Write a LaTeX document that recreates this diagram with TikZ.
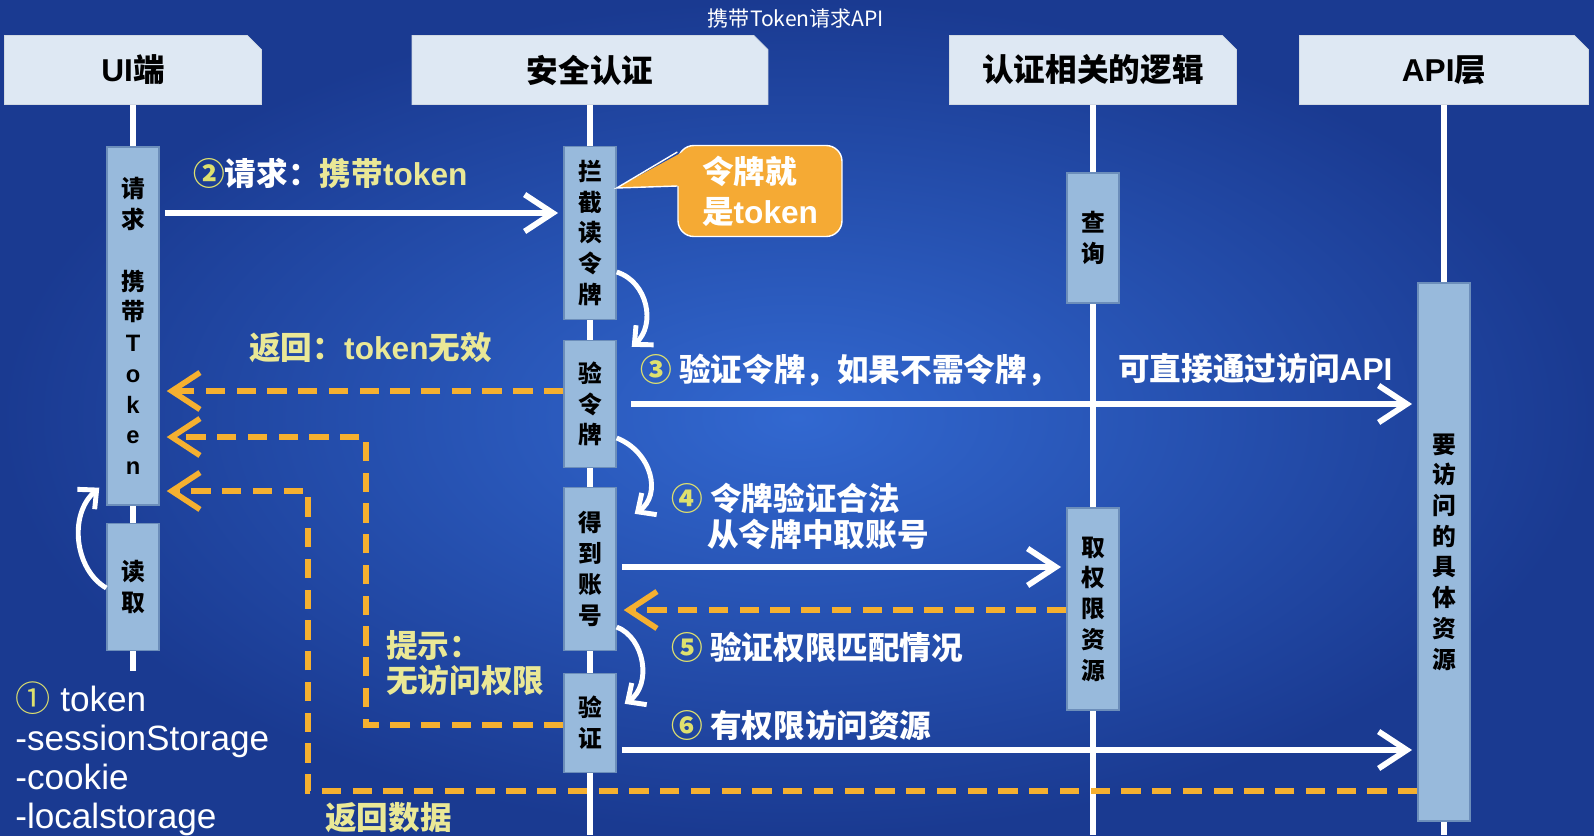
\documentclass[tikz,border=0pt]{standalone}
\usepackage{fontspec}
\setmainfont{Noto Sans CJK SC}
\newfontfamily\lat{Liberation Sans}
\usetikzlibrary{arrows.meta,shapes.misc}

\definecolor{bgin}{RGB}{50,104,208}
\definecolor{bgout}{RGB}{26,58,145}
\definecolor{hdrfill}{RGB}{222,232,243}
\definecolor{actfill}{RGB}{152,186,220}
\definecolor{actline}{RGB}{108,142,186}
\definecolor{dashorange}{RGB}{245,176,48}
\definecolor{tipfill}{RGB}{245,170,52}
\definecolor{labyellow}{RGB}{234,232,150}
\definecolor{numyellow}{RGB}{222,224,110}

\begin{document}
\begin{tikzpicture}[x=0.02cm, y=-0.02cm,
  hdr/.style={chamfered rectangle, chamfered rectangle corners=north east, chamfered rectangle xsep=4pt, chamfered rectangle ysep=4pt, fill=hdrfill, draw=hdrfill!85!gray, inner sep=0pt, minimum height=1.38cm, font=\fontsize{18}{20}\selectfont\bfseries},
  act/.style={draw=actline, line width=0.8pt, fill=actfill, minimum width=1.04cm, inner sep=0pt, align=center, font=\fontsize{13.5}{17.5}\selectfont\bfseries},
  life/.style={white, line width=3.2pt},
  msg/.style={white, line width=3.3pt, -{Straight Barb[length=16pt,width=21pt]}, shorten <=3pt, shorten >=3pt},
  ret/.style={dashorange, line width=3.2pt, dash pattern=on 11pt off 6.5pt, -{Straight Barb[length=16pt,width=21pt]}, shorten >=4pt},
  turn/.style={white, line width=2.8pt, -{Straight Barb[length=8pt,width=15pt]}},
  lab/.style={anchor=west, inner sep=0pt, text=white, font=\fontsize{18}{20}\selectfont\bfseries}
]
\useasboundingbox (0,0) rectangle (1594,835);
\shade[inner color=bgin, outer color=bgout] (0,0) rectangle (1594,835);

\node[text=white, font=\fontsize{12}{14}\selectfont] (title) at (796,18) {携带Token请求API};

\node[hdr, minimum width=5.14cm] (ui)    at (133,70)  {{\lat UI}端};
\node[hdr, minimum width=7.12cm] (sec)   at (590,70)  {安全认证};
\node[hdr, minimum width=5.74cm] (logic) at (1093,70) {认证相关的逻辑};
\node[hdr, minimum width=5.78cm] (api)   at (1444,70) {{\lat API}层};

\draw[life] (ui.south) -- (ui.south |- 0,671);
\draw[life] (sec.south) -- (sec.south |- 0,835);
\draw[life] (logic.south) -- (logic.south |- 0,835);
\draw[life] (api.south) -- (api.south |- 0,835);

\node[act, minimum height=7.16cm] (req) at (ui |- 0,326) {请\\求\\[17.5pt]携\\带\\{\lat T}\\{\lat o}\\{\lat k}\\{\lat e}\\{\lat n}};
\node[act, minimum height=2.54cm] (rd) at (ui |- 0,587) {读\\取};
\node[act, minimum height=3.46cm] (icpt) at (sec |- 0,233) {拦\\截\\读\\令\\牌};
\node[act, minimum height=2.54cm] (chk) at (sec |- 0,404) {验\\令\\牌};
\node[act, minimum height=3.26cm] (acct) at (sec |- 0,569) {得\\到\\账\\号};
\node[act, minimum height=1.98cm] (vfy) at (sec |- 0,723) {验\\证};
\node[act, minimum height=2.6cm] (qry) at (logic |- 0,238) {查\\询};
\node[act, minimum height=4.04cm] (perm) at (logic |- 0,609) {取\\权\\限\\资\\源};
\node[act, minimum height=10.76cm] (res) at (api |- 0,552) {要\\访\\问\\的\\具\\体\\资\\源};

\node[fill=tipfill, draw=white, line width=0.8pt, rounded corners=9pt, minimum width=3.28cm, minimum height=1.82cm, align=left, text=white, font=\fontsize{18}{22.7}\selectfont\bfseries] (tok) at (760,191) {令牌就\\是{\lat token}};
\fill[tipfill] ([xshift=3pt]tok.west |- 0,152) -- (icpt.east |- 0,188) -- ([xshift=3pt]tok.west |- 0,186) -- cycle;
\draw[white, line width=0.8pt] (tok.west |- 0,152) -- (icpt.east |- 0,188) -- (tok.west |- 0,186);

\node[lab] (l2) at (193,173) {\textcolor{numyellow}{②}请求：\textcolor{labyellow}{携带{\lat token}}};
\node[lab, text=labyellow] (lbad) at (249,348) {返回：{\lat token}无效};
\node[lab] (l3a) at (640,370) {\textcolor{numyellow}{③} 验证令牌，如果不需令牌，};
\node[lab] (l3b) at (1118,368) {可直接通过访问{\lat API}};
\node[lab] (l4a) at (671,498) {\textcolor{numyellow}{④} 令牌验证合法};
\node[lab] (l4b) at (707,534) {从令牌中取账号};
\node[lab] (l5) at (671,647) {\textcolor{numyellow}{⑤} 验证权限匹配情况};
\node[lab] (l6) at (671,725) {\textcolor{numyellow}{⑥} 有权限访问资源};
\node[lab, text=labyellow, align=left] (lhint) at (386,663) {提示：\\无访问权限};
\node[lab, text=labyellow] (ldata) at (325,818) {返回数据};
\node[lab, align=left, font=\lat\fontsize{20}{22.1}\selectfont] (store) at (15,759) {{\rmfamily\textcolor{numyellow}{①}} token\\-sessionStorage\\-cookie\\-localstorage};

\draw[msg] (req.east |- 0,213) -- (icpt.west |- 0,213);
\draw[ret] (chk.west |- 0,391) -- (req.east |- 0,391);
\draw[msg, shorten <=8pt] (chk.east |- 0,404) -- (res.west |- 0,404);
\draw[msg] (acct.east |- 0,567) -- (perm.west |- 0,567);
\draw[ret] (perm.west |- 0,610) -- (acct.east |- 0,610);
\draw[msg] (vfy.east |- 0,750) -- (res.west |- 0,750);
\draw[ret] (vfy.west |- 0,725) -| (366,437) -- (req.east |- 0,437);
\draw[ret] (res.west |- 0,791) -| (308,491) -- (req.east |- 0,491);

\draw[turn] (icpt.east |- 0,272) .. controls (648,282) and (656,325) .. ([shift={(15,7)}]chk.north east);
\draw[turn] (chk.east |- 0,438) .. controls (652,452) and (662,495) .. ([shift={(18,27)}]acct.north east);
\draw[turn] (acct.east |- 0,627) .. controls (645,638) and (652,685) .. ([shift={(8,31)}]vfy.north east);
\draw[turn] (rd.west |- 0,588) .. controls (75,570) and (68,515) .. ([shift={(-7,-18)}]req.south west);
\end{tikzpicture}
\end{document}
